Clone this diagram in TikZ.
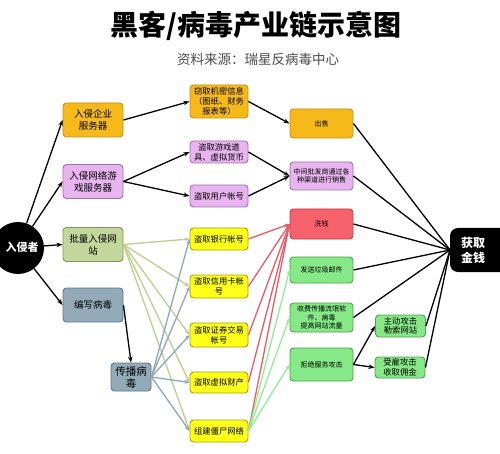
\documentclass[tikz,border=0pt]{standalone}
\usepackage{fontspec}
\setmainfont{Noto Sans CJK SC}
\usetikzlibrary{arrows.meta}
\definecolor{orangeF}{HTML}{F6B91A}\definecolor{orangeD}{HTML}{C8900E}
\definecolor{pinkF}{HTML}{E8B4F0}\definecolor{pinkD}{HTML}{A070B0}
\definecolor{oliveF}{HTML}{C3D69B}\definecolor{oliveD}{HTML}{7F9A50}
\definecolor{blueF}{HTML}{93AAB9}\definecolor{blueD}{HTML}{5D7888}
\definecolor{yellowF}{HTML}{FFFF1A}\definecolor{yellowD}{HTML}{A8A000}
\definecolor{redF}{HTML}{F6626C}\definecolor{redD}{HTML}{C0404A}
\definecolor{greenF}{HTML}{86E886}\definecolor{greenD}{HTML}{4FA04F}
\definecolor{oliveE}{HTML}{BCD08F}\definecolor{blueE}{HTML}{8FA6BF}
\definecolor{redE}{HTML}{E55B66}\definecolor{greenE}{HTML}{93EC93}
\begin{document}
\begin{tikzpicture}[x=1pt,y=-1pt,
  nbox/.style={draw, rounded corners=3.5pt, line width=0.9pt, align=center, inner sep=0.5pt},
  c1/.style={nbox, minimum width=60pt, minimum height=34pt, font=\fontsize{9.5}{12}\selectfont},
  c2/.style={nbox, minimum width=58pt, minimum height=22pt, font=\fontsize{8.3}{10}\selectfont},
  c3/.style={nbox, minimum width=63pt, minimum height=28pt, font=\fontsize{7}{8.6}\selectfont},
  c4/.style={nbox, minimum width=50pt, minimum height=21pt, font=\fontsize{8.3}{9.6}\selectfont},
  orng/.style={fill=orangeF, draw=orangeD},
  pnk/.style={fill=pinkF, draw=pinkD},
  olv/.style={fill=oliveF, draw=oliveD},
  blu/.style={fill=blueF, draw=blueD},
  ylw/.style={fill=yellowF, draw=yellowD},
  rd/.style={fill=redF, draw=redD},
  grn/.style={fill=greenF, draw=greenD},
  blk/.style={line width=1.3pt, black},
  blkarr/.style={blk, -{Stealth[length=6pt,width=4.5pt]}},
  carr/.style={line width=1.3pt, -{Stealth[length=5pt,width=4pt]}}
]
\useasboundingbox (0,0) rectangle (500,454);
\fill[white] (0,0) rectangle (500,454);

% titles
\node[font=\fontsize{28}{31}\selectfont\bfseries] (title) at (256,26) {黑客/病毒产业链示意图};
\node[font=\fontsize{13.5}{15}\selectfont, text=black!70] (sub) at (258,59) {资料来源：瑞星反病毒中心};

% left and right black nodes
\node[circle, fill=black, minimum size=52pt, inner sep=0pt] (ruq) at (18,248) {};
\node[text=white, font=\fontsize{11}{12}\selectfont\bfseries] (ruqt) at (22,247) {入侵者};
\node[fill=black, rounded corners=8pt, minimum width=62pt, minimum height=44pt] (huoqu) at (481,250) {};
\node[text=white, font=\fontsize{12}{15}\selectfont\bfseries, align=center] (huoqut) at (473,250) {获取\\金钱};
\coordinate (hq) at (450,250);

% column 1
\node[c1, orng] (qiye) at (93,120) {入侵企业\\服务器};
\node[c1, pnk] (youxi) at (93,181.5) {入侵网络游\\戏服务器};
\node[c1, olv] (piliang) at (93,244.5) {批量入侵网\\站};
\node[c1, blu] (bianxie) at (93,305) {编写病毒};
\node[nbox, blu, minimum width=40pt, minimum height=28pt, font=\fontsize{10.5}{12}\selectfont] (chuanbo) at (131,377) {传播病\\毒};

% column 2
\node[c2, orng, minimum height=33pt] (jimi) at (219,101.5) {窃取机密信息\\（图纸、财务\\报表等）};
\node[c2, pnk] (daoju) at (219,152) {盗取游戏道\\具、虚拟货币};
\node[c2, pnk] (zhanghao) at (219,196) {盗取用户帐号};
\node[c2, ylw] (yinhang) at (219,239) {盗取银行帐号};
\node[c2, ylw, minimum height=23pt] (xinyong) at (219,286.5) {盗取信用卡帐\\号};
\node[c2, ylw, minimum height=24pt] (zhengquan) at (219,335) {盗取证券交易\\帐号};
\node[c2, ylw, minimum height=21pt] (xuni) at (219,382.5) {盗取虚拟财产};
\node[c2, ylw] (jiangshi) at (219,431) {组建僵尸网络};

% column 3
\node[c3, orng, minimum height=29pt] (chushou) at (321.5,123.5) {出售};
\node[c3, pnk] (zhongjian) at (321.5,176) {中间批发商通过各\\种渠道进行销售};
\node[c3, rd, minimum height=30pt] (xiqian) at (321.5,224) {洗钱};
\node[c3, grn, minimum height=26pt] (laji) at (321.5,270) {发送垃圾邮件};
\node[c3, grn, minimum height=29pt] (shoufei) at (321.5,317.5) {收费传播流氓软\\件、病毒\\提高网站流量};
\node[c3, grn, minimum height=33pt] (jujue) at (321.5,364.5) {拒绝服务攻击};

% column 4
\node[c4, grn, minimum height=22pt] (zhudong) at (400.5,326) {主动攻击\\勒索网站};
\node[c4, grn] (shougu) at (400,367.5) {受雇攻击\\收取佣金};

% coloured connectors
\foreach \t in {yinhang,xinyong,zhengquan,xuni,jiangshi}{
  \draw[carr, oliveE] (piliang.east) -- (\t.west);
}
\foreach \t in {yinhang,xinyong,zhengquan,xuni,jiangshi}{
  \draw[carr, blueE] (chuanbo.east) -- (\t.west);
}
\foreach \s in {yinhang,xinyong,zhengquan,xuni,jiangshi}{
  \draw[carr, redE] (\s.east) -- (xiqian.west);
}
\foreach \t in {laji,shoufei,jujue}{
  \draw[carr, greenE] (jiangshi.east) -- (\t.west);
}

% black connectors
\draw[blkarr] (ruq) -- (qiye.west);
\draw[blkarr] (ruq) -- (youxi.west);
\draw[blkarr] (ruq) -- (piliang.west);
\draw[blkarr] (ruq) -- (bianxie.west);
\draw[blkarr] (bianxie.east) -- (chuanbo.north);
\draw[blkarr] (qiye.east) -- (jimi.west);
\draw[blkarr] (youxi.east) -- (daoju.west);
\draw[blkarr] (youxi.east) -- (zhanghao.west);
\draw[blkarr] (jimi.east) -- (chushou.west);
\draw[blkarr] (daoju.east) -- (zhongjian.west);
\draw[blkarr] (zhanghao.east) -- (zhongjian.west);
\draw[blkarr] (jujue.east) -- (zhudong.west);
\draw[blkarr] (jujue.east) -- (shougu.west);
\foreach \s in {chushou,zhongjian,xiqian,laji,shoufei,zhudong,shougu}{
  \draw[blk] (\s.east) -- (hq);
}
\end{tikzpicture}
\end{document}
